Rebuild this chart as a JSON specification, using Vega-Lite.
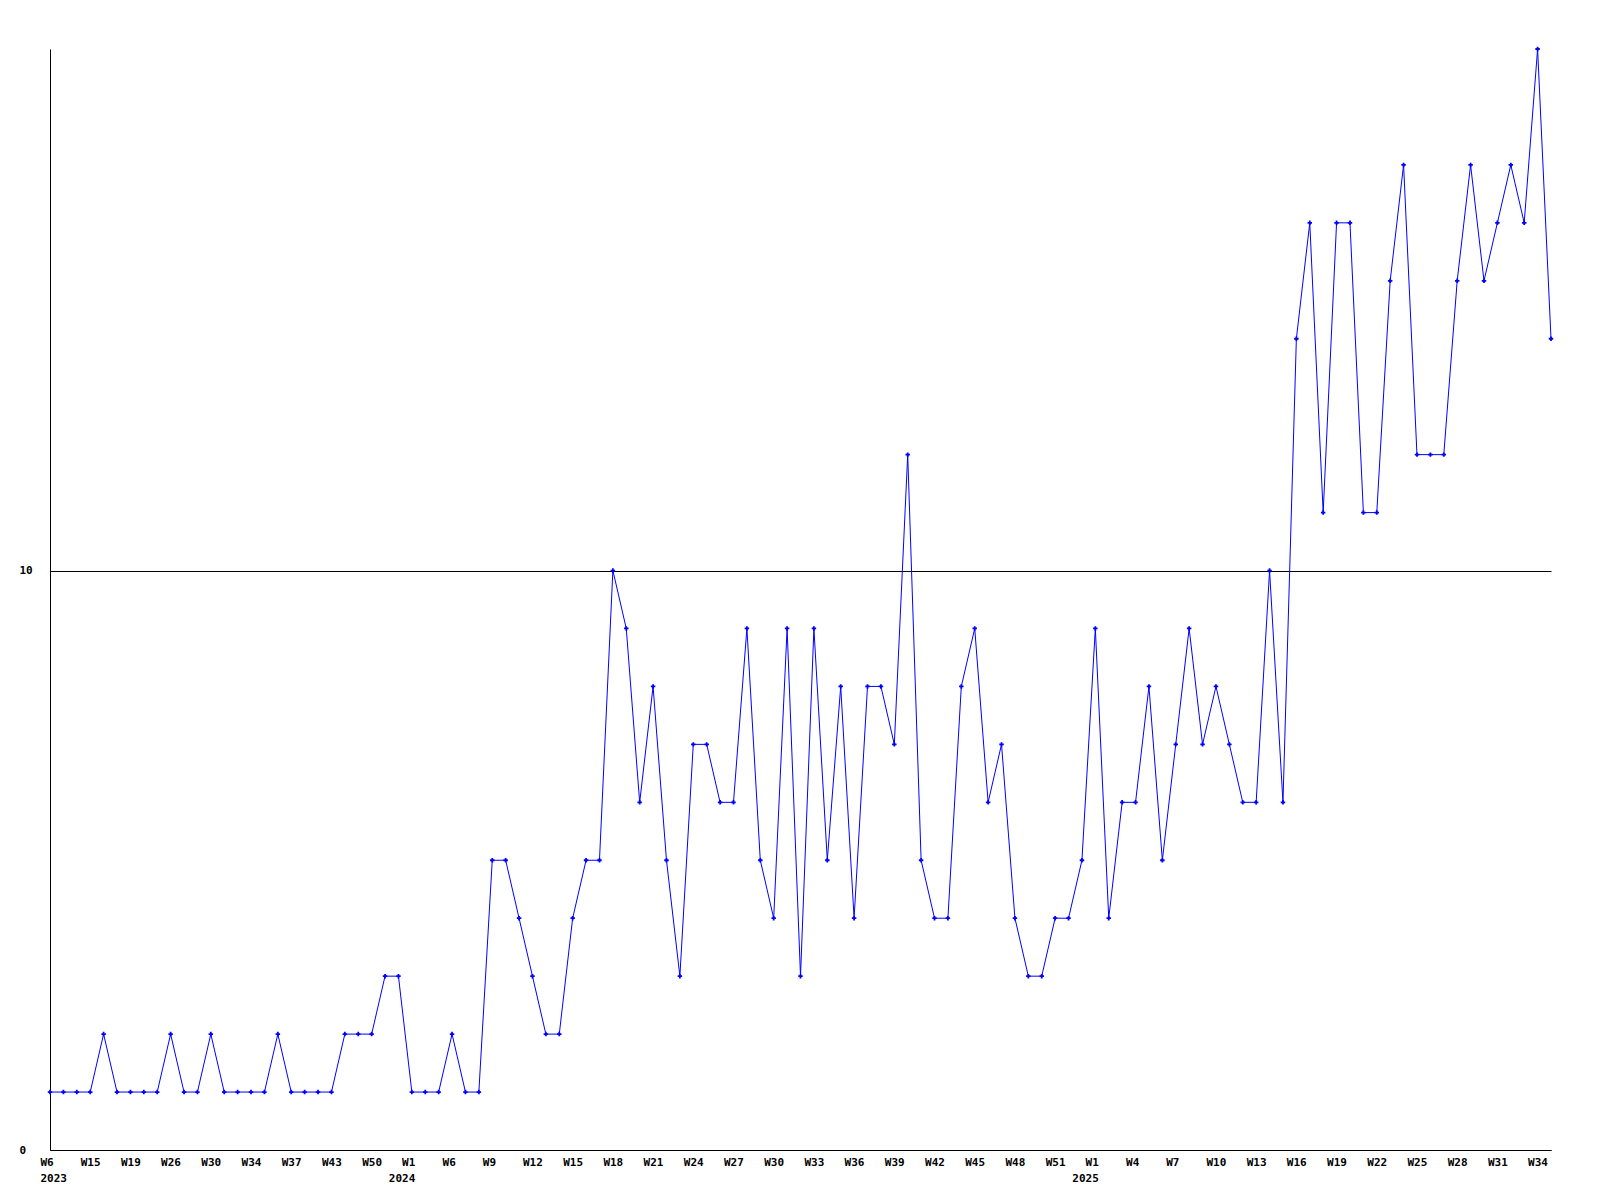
{
  "$schema": "https://vega.github.io/schema/vega-lite/v6.json",
  "autosize": "none",
  "width": 1501,
  "height": 1101,
  "padding": {"left": 50, "top": 49, "right": 49, "bottom": 50},
  "background": "white",
  "config": {
    "view": {"stroke": null},
    "font": "DejaVu Sans Mono",
    "axis": {"labelFont": "DejaVu Sans Mono", "labelFontWeight": "bold", "labelFontSize": 11, "labelColor": "black", "domainColor": "black", "domainWidth": 1, "ticks": false, "title": null}
  },
  "data": {"values": [
    {"week": "2023-W6", "count": 1},
    {"week": "2023-W8", "count": 1},
    {"week": "2023-W12", "count": 1},
    {"week": "2023-W15", "count": 1},
    {"week": "2023-W16", "count": 2},
    {"week": "2023-W17", "count": 1},
    {"week": "2023-W19", "count": 1},
    {"week": "2023-W21", "count": 1},
    {"week": "2023-W24", "count": 1},
    {"week": "2023-W26", "count": 2},
    {"week": "2023-W27", "count": 1},
    {"week": "2023-W29", "count": 1},
    {"week": "2023-W30", "count": 2},
    {"week": "2023-W31", "count": 1},
    {"week": "2023-W33", "count": 1},
    {"week": "2023-W34", "count": 1},
    {"week": "2023-W35", "count": 1},
    {"week": "2023-W36", "count": 2},
    {"week": "2023-W37", "count": 1},
    {"week": "2023-W39", "count": 1},
    {"week": "2023-W41", "count": 1},
    {"week": "2023-W43", "count": 1},
    {"week": "2023-W45", "count": 2},
    {"week": "2023-W48", "count": 2},
    {"week": "2023-W50", "count": 2},
    {"week": "2023-W51", "count": 3},
    {"week": "2023-W52", "count": 3},
    {"week": "2024-W1", "count": 1},
    {"week": "2024-W3", "count": 1},
    {"week": "2024-W5", "count": 1},
    {"week": "2024-W6", "count": 2},
    {"week": "2024-W7", "count": 1},
    {"week": "2024-W8", "count": 1},
    {"week": "2024-W9", "count": 5},
    {"week": "2024-W10", "count": 5},
    {"week": "2024-W11", "count": 4},
    {"week": "2024-W12", "count": 3},
    {"week": "2024-W13", "count": 2},
    {"week": "2024-W14", "count": 2},
    {"week": "2024-W15", "count": 4},
    {"week": "2024-W16", "count": 5},
    {"week": "2024-W17", "count": 5},
    {"week": "2024-W18", "count": 10},
    {"week": "2024-W19", "count": 9},
    {"week": "2024-W20", "count": 6},
    {"week": "2024-W21", "count": 8},
    {"week": "2024-W22", "count": 5},
    {"week": "2024-W23", "count": 3},
    {"week": "2024-W24", "count": 7},
    {"week": "2024-W25", "count": 7},
    {"week": "2024-W26", "count": 6},
    {"week": "2024-W27", "count": 6},
    {"week": "2024-W28", "count": 9},
    {"week": "2024-W29", "count": 5},
    {"week": "2024-W30", "count": 4},
    {"week": "2024-W31", "count": 9},
    {"week": "2024-W32", "count": 3},
    {"week": "2024-W33", "count": 9},
    {"week": "2024-W34", "count": 5},
    {"week": "2024-W35", "count": 8},
    {"week": "2024-W36", "count": 4},
    {"week": "2024-W37", "count": 8},
    {"week": "2024-W38", "count": 8},
    {"week": "2024-W39", "count": 7},
    {"week": "2024-W40", "count": 12},
    {"week": "2024-W41", "count": 5},
    {"week": "2024-W42", "count": 4},
    {"week": "2024-W43", "count": 4},
    {"week": "2024-W44", "count": 8},
    {"week": "2024-W45", "count": 9},
    {"week": "2024-W46", "count": 6},
    {"week": "2024-W47", "count": 7},
    {"week": "2024-W48", "count": 4},
    {"week": "2024-W49", "count": 3},
    {"week": "2024-W50", "count": 3},
    {"week": "2024-W51", "count": 4},
    {"week": "2024-W52", "count": 4},
    {"week": "2024-W53", "count": 5},
    {"week": "2025-W1", "count": 9},
    {"week": "2025-W2", "count": 4},
    {"week": "2025-W3", "count": 6},
    {"week": "2025-W4", "count": 6},
    {"week": "2025-W5", "count": 8},
    {"week": "2025-W6", "count": 5},
    {"week": "2025-W7", "count": 7},
    {"week": "2025-W8", "count": 9},
    {"week": "2025-W9", "count": 7},
    {"week": "2025-W10", "count": 8},
    {"week": "2025-W11", "count": 7},
    {"week": "2025-W12", "count": 6},
    {"week": "2025-W13", "count": 6},
    {"week": "2025-W14", "count": 10},
    {"week": "2025-W15", "count": 6},
    {"week": "2025-W16", "count": 14},
    {"week": "2025-W17", "count": 16},
    {"week": "2025-W18", "count": 11},
    {"week": "2025-W19", "count": 16},
    {"week": "2025-W20", "count": 16},
    {"week": "2025-W21", "count": 11},
    {"week": "2025-W22", "count": 11},
    {"week": "2025-W23", "count": 15},
    {"week": "2025-W24", "count": 17},
    {"week": "2025-W25", "count": 12},
    {"week": "2025-W26", "count": 12},
    {"week": "2025-W27", "count": 12},
    {"week": "2025-W28", "count": 15},
    {"week": "2025-W29", "count": 17},
    {"week": "2025-W30", "count": 15},
    {"week": "2025-W31", "count": 16},
    {"week": "2025-W32", "count": 17},
    {"week": "2025-W33", "count": 16},
    {"week": "2025-W34", "count": 19},
    {"week": "2025-W35", "count": 14}
  ]},
  "encoding": {
    "x": {
      "field": "week", "type": "ordinal", "sort": null,
      "scale": {"type": "point", "padding": 0},
      "axis": {
        "values": ["2023-W6","2023-W15","2023-W19","2023-W26","2023-W30","2023-W34","2023-W37","2023-W43","2023-W50","2024-W1","2024-W6","2024-W9","2024-W12","2024-W15","2024-W18","2024-W21","2024-W24","2024-W27","2024-W30","2024-W33","2024-W36","2024-W39","2024-W42","2024-W45","2024-W48","2024-W51","2025-W1","2025-W4","2025-W7","2025-W10","2025-W13","2025-W16","2025-W19","2025-W22","2025-W25","2025-W28","2025-W31","2025-W34"],
        "labelExpr": "indexof(['2023-W6','2024-W1','2025-W1'], datum.value) >= 0 ? [split(datum.value,'-')[1], split(datum.value,'-')[0]] : split(datum.value,'-')[1]",
        "labelAngle": 0,
        "labelAlign": {"condition": {"test": "datum.value == '2024-W1' || datum.value == '2025-W1'", "value": "right"}, "value": "left"},
        "labelOffset": {"condition": {"test": "datum.value == '2024-W1' || datum.value == '2025-W1'", "value": 3}, "value": -10},
        "labelBaseline": "top", "labelPadding": 6, "labelLineHeight": 16,
        "grid": false, "labelOverlap": false, "labelBound": false, "labelFlush": false
      }
    },
    "y": {
      "field": "count", "type": "quantitative",
      "scale": {"domain": [0, 19], "nice": false},
      "axis": {"values": [0, 10], "grid": true, "gridColor": "black", "gridOpacity": 1, "gridWidth": 1, "labelAlign": "left", "labelPadding": 31}
    }
  },
  "layer": [
    {"mark": {"type": "line", "color": "#0000ff", "strokeWidth": 1}},
    {"mark": {"type": "point", "shape": "cross", "filled": true, "color": "#0000ff", "size": 20, "opacity": 1}}
  ]
}
